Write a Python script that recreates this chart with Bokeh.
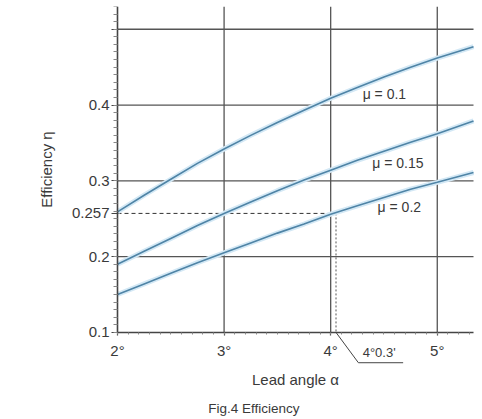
from bokeh.plotting import figure
from bokeh.models import Range1d, FixedTicker, Label, ColumnDataSource, LinearAxis
from bokeh.core.properties import value
from bokeh.embed import file_html
from bokeh.resources import INLINE

# ---- data ----
lead_angle = [2.0, 2.25, 2.5, 2.75, 3.0, 3.25, 3.5, 3.75, 4.0, 4.25, 4.5, 4.75, 5.0, 5.34]
eff_mu_010 = [0.259, 0.281, 0.302, 0.323, 0.342, 0.360, 0.377, 0.393, 0.409, 0.423, 0.437, 0.450, 0.462, 0.477]
eff_mu_015 = [0.190, 0.207, 0.224, 0.241, 0.257, 0.272, 0.287, 0.301, 0.314, 0.327, 0.339, 0.351, 0.362, 0.379]
eff_mu_020 = [0.150, 0.164, 0.178, 0.192, 0.205, 0.218, 0.231, 0.243, 0.256, 0.267, 0.278, 0.289, 0.298, 0.311]
series_labels = ["\u03bc = 0.1", "\u03bc = 0.15", "\u03bc = 0.2"]
label_x = [4.30, 4.39, 4.44]
label_y = [0.415, 0.323, 0.265]
x_ticks = [2, 3, 4, 5]
x_tick_labels = ["2\u00b0", "3\u00b0", "4\u00b0", "5\u00b0"]
y_ticks = [0.1, 0.2, 0.257, 0.3, 0.4, 0.5]
y_tick_labels = ["0.1", "0.2", "0.257", "0.3", "0.4", ""]
grid_y = [0.2, 0.3, 0.4, 0.5]
example_angle = 4.05
example_eff = 0.257
example_label = "4\u00b00.3'"

FONT = "Liberation Sans"
TXT = "#3a3a3a"
GRID = "#555555"
Y_MIN, Y_MAX = 0.1, 0.53
X_MIN, X_MAX = 2.0, 5.34

p = figure(width=482, height=419, output_backend="svg", toolbar_location=None,
           x_range=Range1d(0.9023, 5.4244), y_range=Range1d(-0.0149, Y_MAX),
           x_axis_location=None, y_axis_location=None,
           min_border_left=0, min_border_right=0, min_border_top=6,
           min_border_bottom=0, outline_line_color=None,
           background_fill_color="white", border_fill_color="white")

xax = LinearAxis(fixed_location=Y_MIN, bounds=(X_MIN, X_MAX))
yax = LinearAxis(fixed_location=X_MIN, bounds=(Y_MIN, Y_MAX))
p.add_layout(xax, "below")
p.add_layout(yax, "left")

xax.ticker = FixedTicker(ticks=x_ticks,
                         minor_ticks=[round(2 + 0.1 * i, 2) for i in range(34)])
xax.major_label_overrides = {t: l for t, l in zip(x_ticks, x_tick_labels)}
yax.ticker = FixedTicker(ticks=y_ticks,
                         minor_ticks=[round(0.1 + 0.01 * i, 3) for i in range(44)])
yax.major_label_overrides = {t: l for t, l in zip(y_ticks, y_tick_labels)}
for ax in (xax, yax):
    ax.axis_line_color = "#444444"
    ax.axis_line_width = 1.6
    ax.major_tick_line_color = "#444444"
    ax.major_tick_line_width = 1.2
    ax.minor_tick_line_color = "#888888"
    ax.major_tick_in = 0
    ax.minor_tick_in = 0
    ax.major_label_text_font = FONT
    ax.major_label_text_font_size = "15px"
    ax.major_label_text_color = TXT
    ax.axis_label_text_font = FONT
    ax.axis_label_text_font_size = "15px"
    ax.axis_label_text_font_style = "normal"
    ax.axis_label_text_color = TXT
yax.major_tick_out = 6
yax.minor_tick_out = 4
xax.major_tick_out = 3
xax.minor_tick_out = 2
yax.major_label_standoff = 2
xax.major_label_standoff = 7
xax.axis_label = "Lead angle \u03b1"
yax.axis_label = "Efficiency \u03b7"
xax.axis_label_standoff = 8
yax.axis_label_standoff = 14

# grid lines bounded to the data area
p.xgrid.visible = False
p.ygrid.visible = False
vx = x_ticks[1:]
p.segment(x0=vx, y0=[Y_MIN] * len(vx), x1=vx, y1=[Y_MAX] * len(vx),
          line_color=GRID, line_width=1.3)
p.segment(x0=[X_MIN] * len(grid_y), y0=grid_y, x1=[X_MAX] * len(grid_y), y1=grid_y,
          line_color=GRID, line_width=1.3)

# reference dashed lines for the worked example
p.line([X_MIN, example_angle], [example_eff, example_eff], line_color="#333333",
       line_width=1, line_dash="4 3")
p.line([example_angle, example_angle], [example_eff, Y_MIN], line_color="#555555",
       line_width=1, line_dash="2 2")

# curves: soft glow + line
for ys in (eff_mu_010, eff_mu_015, eff_mu_020):
    p.line(lead_angle, ys, line_color="#d3e8f5", line_width=5)
    p.line(lead_angle, ys, line_color="#4f84a6", line_width=1.6)

src = ColumnDataSource(dict(x=label_x, y=label_y, t=series_labels))
p.text(x="x", y="y", text="t", source=src, text_font=value(FONT),
       text_font_size="14px", text_color=TXT, text_baseline="middle")

# leader line and label for 4°0.3'
p.line([example_angle, 4.26, 4.68], [Y_MIN, 0.060, 0.060], line_color="#444444", line_width=1)
p.add_layout(Label(x=4.30, y=0.063, text=example_label, text_font=FONT,
                   text_font_size="13px", text_color=TXT, text_baseline="bottom"))

# caption
p.add_layout(Label(x=3.28, y=-0.001, text="Fig.4 Efficiency", text_font=FONT,
                   text_font_size="13.5px", text_color=TXT, text_align="center",
                   text_baseline="middle"))

open("out.html", "w").write(file_html(p, INLINE))
